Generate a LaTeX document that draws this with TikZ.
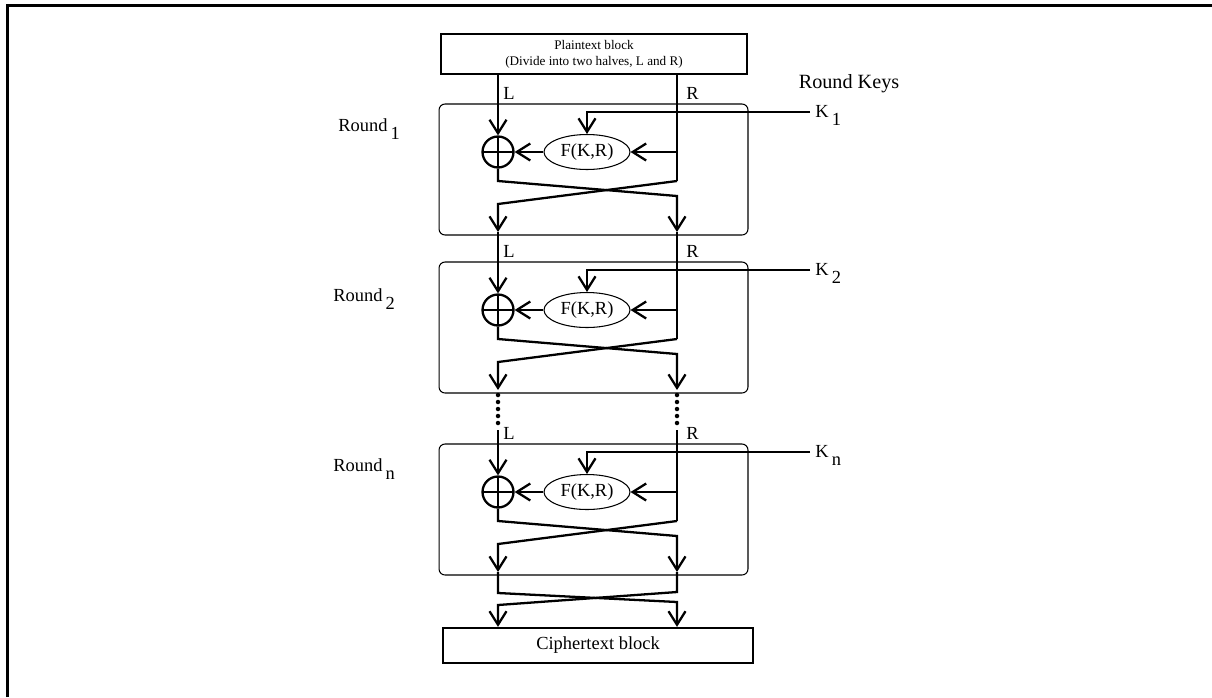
\documentclass[tikz,border=0pt]{standalone}
\usepackage{fontspec}
\setmainfont{Liberation Serif}
\usetikzlibrary{arrows.meta, positioning, calc, shapes.geometric}

\newcommand{\lowsub}[1]{\,\raisebox{-1.0ex}{#1}}

\begin{document}
\begin{tikzpicture}[
  x=0.02cm, y=-0.02cm,
  arrow/.style={-{Straight Barb[length=0.27cm, width=0.34cm]}, line width=1.3pt},
  wire/.style={line width=1.3pt},
  block/.style={draw, rectangle, line width=1.3pt, align=center, inner sep=0pt},
  roundbox/.style={draw, rectangle, rounded corners=0.12cm, line width=0.6pt, minimum width=6.18cm, minimum height=2.62cm},
  fbox/.style={draw, ellipse, line width=0.6pt, minimum width=1.72cm, minimum height=0.7cm, inner sep=0pt, font=\fontsize{10.5}{12}\selectfont},
  xorop/.style={draw, circle, line width=1.3pt, minimum size=0.62cm, inner sep=0pt,
    path picture={\draw[line width=1.3pt] (path picture bounding box.north) -- (path picture bounding box.south)
      (path picture bounding box.west) -- (path picture bounding box.east);}},
  lbl/.style={font=\fontsize{10.5}{12}\selectfont, inner sep=0pt}
]
  \useasboundingbox (0,0) rectangle (1212,697);

  % Frame
  \draw[line width=0.06cm] (7.5,697) -- (7.5,5.5) -- (1212,5.5);

  % Plaintext and ciphertext blocks
  \node[block, minimum width=6.12cm, minimum height=0.8cm, font=\fontsize{7.5}{9}\selectfont] (pt) at (594,54) {Plaintext block\\(Divide into two halves, L and R)};
  \node[block, minimum width=6.2cm, minimum height=0.7cm, font=\fontsize{10.5}{12}\selectfont] (ct) at (598,645.5) {Ciphertext block};
  \node[lbl, font=\fontsize{11.5}{13}\selectfont] (keys) at (849,84) {Round Keys};

  % Rounds
  \foreach \r/\T/\rx/\ry in {1/104/338/131, 2/262/333/301, n/444/333/471} {
    \node[roundbox] (rb\r) at (593.5,\T+65.5) {};
    \node[xorop] (x\r) at (498,\T+48) {};
    \node[fbox] (f\r) at (587,\T+48) {F(K,R)};
    \node[lbl, anchor=base west] (k\r) at (815,\T+13) {K\lowsub{\r}};
    \node[lbl, anchor=base west] (rl\r) at (\rx,\ry) {Round\lowsub{\r}};
    \node[lbl, anchor=west] (ll\r) at (503,\T-11) {L};
    \node[lbl, anchor=west] (rr\r) at (686,\T-11) {R};
    \coordinate (ks\r) at (810,\T+8);
    \coordinate (rt\r) at (677,\T+48);
    \coordinate (ra\r) at (677,\T+77);
    \coordinate (la\r) at (498,\T+77);
    \coordinate (cr\r) at (677,\T+92);
    \coordinate (cl\r) at (498,\T+100);
    \coordinate (lo\r) at (498,\T+128);
    \coordinate (ro\r) at (677,\T+128);
    % key into F, R into F, F into XOR
    \draw[arrow] (ks\r) -| (f\r.north);
    \draw[arrow] (rt\r) -- (f\r.east);
    \draw[arrow] (f\r.west) -- (x\r.east);
    % swap halves
    \draw[arrow] (x\r.south) -- (la\r) -- (cr\r) -- (ro\r);
    \draw[arrow] (ra\r) -- (cl\r) -- (lo\r);
  }

  % Inputs of each round
  \coordinate (lin1) at (pt.south -| x1);
  \coordinate (rin1) at (pt.south -| rt1);
  \coordinate (lin2) at (lo1);
  \coordinate (rin2) at (ro1);
  \coordinate (linn) at (498,430);
  \coordinate (rinn) at (677,430);
  \foreach \r in {1,2,n} {
    \draw[arrow] (lin\r) -- (x\r.north);
    \draw[wire] (rin\r) -- (ra\r);
  }

  % Dots between rounds
  \foreach \d in {395,402,409,416,423} {
    \fill (498,\d) circle (0.045cm);
    \fill (677,\d) circle (0.045cm);
  }

  % Final swap into ciphertext
  \coordinate (fl) at (498,593);
  \coordinate (fr) at (677,592);
  \coordinate (fcr) at (677,602);
  \coordinate (fcl) at (498,605);
  \draw[arrow] (lon) -- (fl) -- (fcr) -- (ct.north -| fr);
  \draw[arrow] (ron) -- (fr) -- (fcl) -- (ct.north -| fl);

\end{tikzpicture}
\end{document}
